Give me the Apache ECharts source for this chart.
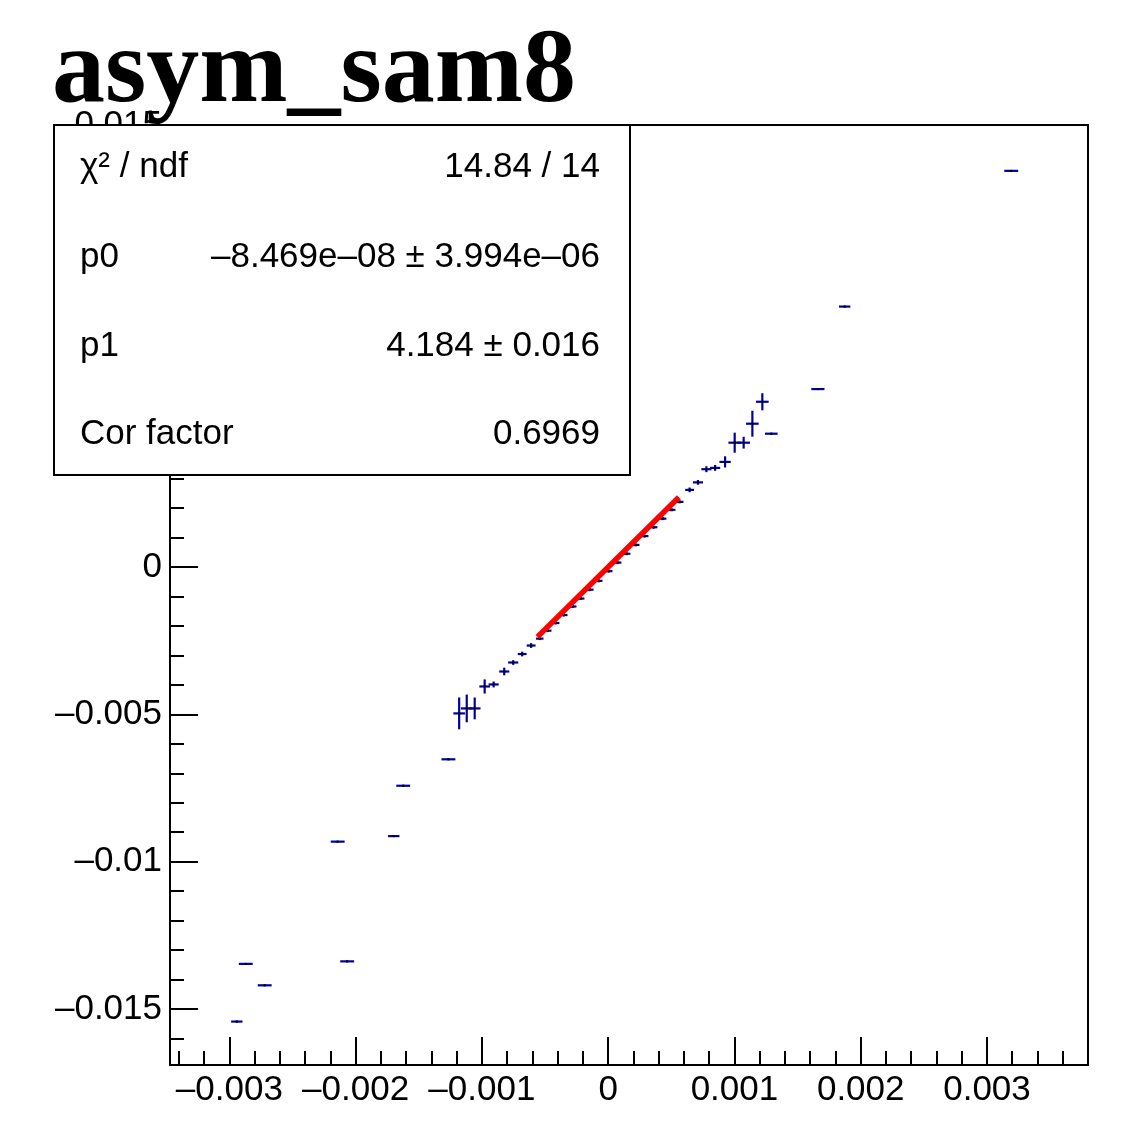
<!DOCTYPE html>
<html>
<head>
<meta charset="utf-8">
<script src="https://cdn.jsdelivr.net/npm/echarts@6.0.0/dist/echarts.min.js"></script>
<style>
  html, body { margin: 0; padding: 0; background: #fff; }
  #chart { width: 1135px; height: 1133px; }
</style>
</head>
<body>
<div id="chart"></div>
<script>
// graph points (x, y) with their errors
const xVals = [
  -0.002941, -0.002870, -0.002720, -0.002142, -0.002067, -0.001698, -0.001623, -0.001265,
  -0.001180, -0.001120, -0.001057, -0.000978, -0.000907, -0.000823, -0.000752, -0.000681, -0.000610,
  -0.000542, -0.000479, -0.000416, -0.000352, -0.000281, -0.000218, -0.000146, -0.000075, 0.000004,
  0.000075, 0.000146, 0.000218, 0.000289, 0.000360, 0.000431, 0.000503, 0.000566,
  0.000645, 0.000711, 0.000778, 0.000847, 0.000926, 0.001002, 0.001073, 0.001142, 0.001221,
  0.001292, 0.001661, 0.001873, 0.003192
];
const yVals = [
  -0.015426, -0.013468, -0.014196, -0.009320, -0.013383, -0.009133, -0.007423, -0.006526,
  -0.004968, -0.004799, -0.004799, -0.004054, -0.003986, -0.003546, -0.003241, -0.002953, -0.002665,
  -0.00243, -0.00216, -0.00190, -0.00163, -0.00134, -0.00107, -0.00077, -0.00047, -0.00014,
  0.00015, 0.00045, 0.00075, 0.00105, 0.00135, 0.00164, 0.00194, 0.00221,
  0.002617, 0.002872, 0.003319, 0.003363, 0.003566, 0.004219, 0.004219, 0.004863, 0.005608,
  0.004524, 0.006038, 0.008838, 0.013444
];
const xErrs = [
  0.000045, 0.000055, 0.000055, 0.000055, 0.000055, 0.000045, 0.000055, 0.000055,
  0.000046, 0.000046, 0.000046, 0.000042, 0.00004, 0.00004, 0.00004, 0.000035, 0.000035,
  0.00003, 0.00003, 0.00003, 0.00003, 0.00003, 0.00003, 0.00003, 0.00003, 0.00003,
  0.00003, 0.00003, 0.00003, 0.00003, 0.00003, 0.00003, 0.00003, 0.00003,
  0.000035, 0.00004, 0.00004, 0.00004, 0.000045, 0.00005, 0.00005, 0.00005, 0.00005,
  0.00005, 0.000052, 0.000045, 0.000055
];
const yErrs = [
  0.00003, 0.00003, 0.00003, 0.00003, 0.00003, 0.00003, 0.00003, 0.00003,
  0.00054, 0.00047, 0.00037, 0.00024, 0.0001, 0.00013, 0.00008, 0.00008, 0.00008,
  0.00005, 0.00005, 0.00005, 0.00005, 0.00005, 0.00005, 0.00005, 0.00005, 0.00005,
  0.00005, 0.00005, 0.00005, 0.00005, 0.00005, 0.00005, 0.00005, 0.00005,
  0.00008, 0.00008, 0.0001, 0.0001, 0.00019, 0.00034, 0.0002, 0.00044, 0.00029,
  0.00003, 0.00003, 0.00003, 0.00003
];

// fitted line end points
const fitX = [-0.00056, 0.00056];
const fitY = [-0.00237, 0.00237];

const xMajorTicks = [-0.003, -0.002, -0.001, 0, 0.001, 0.002, 0.003];
const yMajorTicks = [-0.015, -0.01, -0.005, 0, 0.005, 0.01, 0.015];

const statsRows = [
  ['χ² / ndf', '14.84 / 14'],
  ['p0', '–8.469e–08 ± 3.994e–06'],
  ['p1', '4.184 ± 0.016'],
  ['Cor factor', '0.6969']
];

const X_MIN = -0.00347, X_MAX = 0.0038;
const Y_MIN = -0.0169, Y_MAX = 0.015;
const BLUE = '#000099';
const FONT = '"Liberation Sans", Arial, sans-serif';

const steps = (a, b, s) => {
  const out = [];
  for (let v = a; v <= b + s / 2; v += s) out.push(+v.toFixed(6));
  return out;
};
const xMinorTicks = steps(-0.0034, 0.0038, 0.0002);
const yMinorTicks = steps(-0.016, 0.015, 0.001);

const fmt = v => (v === 0 ? '0' : String(+v.toPrecision(3)).replace('-', '–'));

const points = xVals.map((x, i) => [x, yVals[i], xErrs[i], yErrs[i]]);

function renderErr(params, api) {
  const x = api.value(0), y = api.value(1), ex = api.value(2), ey = api.value(3);
  const c = api.coord([x, y]);
  const l = api.coord([x - ex, y]);
  const r = api.coord([x + ex, y]);
  const t = api.coord([x, y + ey]);
  const b = api.coord([x, y - ey]);
  const style = { stroke: BLUE, lineWidth: 2.2 };
  return {
    type: 'group',
    children: [
      { type: 'line', shape: { x1: l[0], y1: c[1], x2: r[0], y2: c[1] }, style },
      { type: 'line', shape: { x1: c[0], y1: t[1], x2: c[0], y2: b[1] }, style },
      { type: 'rect', shape: { x: c[0] - 1, y: c[1] - 1, width: 2, height: 2 }, style: { fill: '#000' } }
    ]
  };
}

const axisBase = {
  type: 'value',
  splitLine: { show: false },
  gridIndex: 0
};

const chart = echarts.init(document.getElementById('chart'), null, { renderer: 'canvas' });

const statsGraphics = [
  {
    type: 'rect', z: 100,
    shape: { x: 54, y: 125, width: 576, height: 350 },
    style: { fill: '#fff', stroke: '#000', lineWidth: 2 }
  }
];
const rowY = [167, 257, 346, 434];
statsRows.forEach((row, i) => {
  statsGraphics.push({
    type: 'text', z: 101, x: 80, y: rowY[i],
    style: { text: row[0], font: '35px ' + FONT, fill: '#000', align: 'left', verticalAlign: 'middle' }
  });
  statsGraphics.push({
    type: 'text', z: 101, x: 600, y: rowY[i],
    style: { text: row[1], font: '35px ' + FONT, fill: '#000', align: 'right', verticalAlign: 'middle' }
  });
});

const tickStyle = { color: '#000', width: 2 };

chart.setOption({
  animation: false,
  backgroundColor: '#fff',
  grid: {
    left: 170, right: 47, top: 125, bottom: 68,
    show: true, borderColor: '#000', borderWidth: 2,
    outerBoundsMode: 'none'
  },
  xAxis: [
    Object.assign({}, axisBase, {
      min: X_MIN, max: X_MAX, position: 'bottom',
      axisLine: { show: true, onZero: false, lineStyle: tickStyle },
      axisTick: { show: true, inside: true, length: 28, customValues: xMajorTicks, lineStyle: tickStyle },
      axisLabel: { show: true, customValues: xMajorTicks, formatter: fmt, color: '#000', fontSize: 35, fontFamily: FONT, margin: 8 }
    }),
    Object.assign({}, axisBase, {
      min: X_MIN, max: X_MAX, position: 'bottom',
      axisLine: { show: false, onZero: false },
      axisTick: { show: true, inside: true, length: 14, customValues: xMinorTicks, lineStyle: tickStyle },
      axisLabel: { show: false }
    })
  ],
  yAxis: [
    Object.assign({}, axisBase, {
      min: Y_MIN, max: Y_MAX, position: 'left',
      axisLine: { show: true, onZero: false, lineStyle: tickStyle },
      axisTick: { show: true, inside: true, length: 28, customValues: yMajorTicks, lineStyle: tickStyle },
      axisLabel: { show: true, customValues: yMajorTicks, formatter: fmt, color: '#000', fontSize: 35, fontFamily: FONT, margin: 8 }
    }),
    Object.assign({}, axisBase, {
      min: Y_MIN, max: Y_MAX, position: 'left',
      axisLine: { show: false, onZero: false },
      axisTick: { show: true, inside: true, length: 14, customValues: yMinorTicks, lineStyle: tickStyle },
      axisLabel: { show: false }
    })
  ],
  series: [
    {
      type: 'custom',
      xAxisIndex: 0, yAxisIndex: 0,
      renderItem: renderErr,
      encode: { x: 0, y: 1 },
      data: points,
      clip: true,
      z: 3
    },
    {
      type: 'line',
      xAxisIndex: 0, yAxisIndex: 0,
      data: fitX.map((x, i) => [x, fitY[i]]),
      symbol: 'none',
      lineStyle: { color: '#ff0000', width: 5.5 },
      z: 5
    }
  ],
  graphic: [
    {
      type: 'text', z: 100, x: 52, y: 74,
      style: { text: 'asym_sam8', font: 'bold 106px "Liberation Serif", "Times New Roman", serif', fill: '#000', align: 'left', verticalAlign: 'middle' }
    }
  ].concat(statsGraphics)
});
</script>
</body>
</html>
